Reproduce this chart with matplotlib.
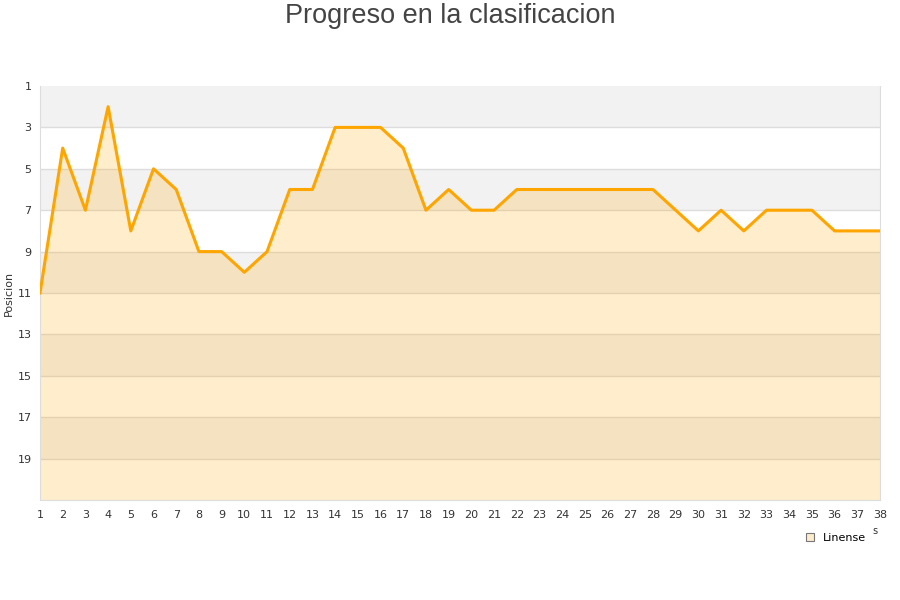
import matplotlib
matplotlib.use('Agg')
import matplotlib.pyplot as plt
from matplotlib.patches import Patch

jornadas = list(range(1, 39))
posicion = [11, 4, 7, 2, 8, 5, 6, 9, 9, 10, 9, 6, 6, 3, 3, 3, 4, 7, 6, 7,
            7, 6, 6, 6, 6, 6, 6, 6, 7, 8, 7, 8, 7, 7, 7, 8, 8, 8]
yticks = list(range(1, 21, 2))

fig = plt.figure(figsize=(9, 6), dpi=100)
ax = fig.add_axes([40 / 900, 100 / 600, 840 / 900, 414 / 600])

# bandas alternas
for i, y0 in enumerate(range(1, 21, 2)):
    if i % 2 == 0:
        ax.axhspan(y0, y0 + 2, color='#f2f2f2', zorder=0, lw=0)
for y0 in yticks[1:]:
    ax.axhline(y0, color='#dddddd', lw=1, zorder=1)

ax.fill_between(jornadas, posicion, 21, color='#ffa500', alpha=0.2, lw=0, zorder=2)
ax.plot(jornadas, posicion, color='#ffa500', lw=2.2, zorder=3)

ax.set_xlim(1, 38)
ax.set_ylim(21, 1)
ax.set_xticks(jornadas)
ax.set_yticks(yticks)
ax.tick_params(length=0, labelsize=8, colors='#333333', pad=7)
ax.tick_params(axis='y', pad=6)
ax.spines['top'].set_visible(False)
for s in ['left', 'right', 'bottom']:
    ax.spines[s].set_color('#dddddd')

ax.set_ylabel('Posicion', fontsize=8, color='#333333')
ax.yaxis.set_label_coords(-26 / 840, 0.5)
fig.text(875 / 900, 1 - 531 / 600, 's', fontsize=7, color='#333333', ha='center', va='center')

fig.text(0.5, 1 - 16 / 600, 'Progreso en la clasificacion', ha='center', va='center',
         fontsize=19.5, color='#444444', family='Liberation Sans')

ax.legend(handles=[Patch(facecolor='#fdeccc', edgecolor='#777777', lw=0.8, label='Linense')],
          loc='upper right', bbox_to_anchor=(0.995, -0.055), frameon=False,
          fontsize=8, handlelength=0.7, handleheight=0.7, handletextpad=0.8)

fig.savefig('out.png', dpi=100)
